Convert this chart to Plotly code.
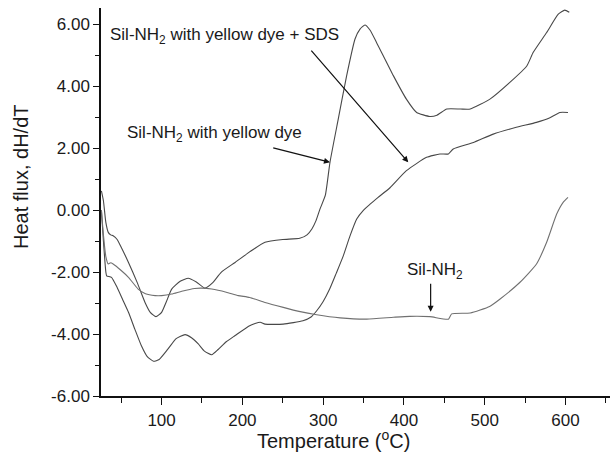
import plotly.graph_objects as go

# Sil-NH2 with yellow dye
xa = [25.5, 28, 31, 34, 37, 40, 45, 50, 59, 70, 79.5, 86, 93, 100, 106, 112.5, 123, 133, 143, 153.7,
      163, 174, 191, 209, 228, 250, 271, 280, 286, 291, 296, 302.7, 308.4, 318.7, 329, 339.4, 345.6,
      351.7, 357.9, 366, 387, 403, 415.7, 432, 440.8, 453, 470, 482, 506.4, 531, 552, 560, 576.6,
      591, 599, 604.6]
ya = [0.62, 0.3, -0.4, -0.72, -0.8, -0.83, -0.95, -1.2, -1.69, -2.35, -2.98, -3.3, -3.44, -3.3, -2.95,
      -2.55, -2.3, -2.2, -2.32, -2.52, -2.35, -2.0, -1.69, -1.35, -1.04, -0.95, -0.91, -0.8, -0.61,
      -0.35, 0.03, 0.48, 1.54, 2.94, 4.33, 5.52, 5.84, 5.97, 5.81, 5.41, 4.33, 3.58, 3.15, 3.02,
      3.06, 3.26, 3.26, 3.26, 3.58, 4.12, 4.65, 5.09, 5.73, 6.32, 6.45, 6.38]

# Sil-NH2 with yellow dye + SDS
xb = [25.5, 28, 31, 32, 38, 45, 52, 59, 67, 75, 82, 90, 97, 108, 118, 129, 137, 145.4, 153, 162, 170,
      180, 191, 209, 222, 228, 250.6, 275, 285, 292, 300, 308, 316, 325, 333, 341.5, 350, 358, 368,
      382.7, 403, 428, 444.5, 455, 461, 486, 510.5, 539, 564, 580, 593, 603]
yb = [0.0, -1.0, -2.0, -2.12, -2.17, -2.5, -2.9, -3.3, -3.85, -4.38, -4.72, -4.88, -4.82, -4.48, -4.15,
      -4.02, -4.12, -4.32, -4.55, -4.67, -4.5, -4.25, -4.05, -3.73, -3.62, -3.68, -3.68, -3.57, -3.45,
      -3.25, -2.95, -2.55, -2.05, -1.47, -0.85, -0.29, 0.0, 0.19, 0.41, 0.72, 1.27, 1.7, 1.81, 1.81,
      1.97, 2.18, 2.45, 2.67, 2.83, 2.97, 3.15, 3.15]

# Sil-NH2
xc = [25.5, 28, 31, 34, 37, 40, 50, 59, 71, 80, 92, 100, 112.5, 125, 141, 150, 162, 180, 195, 209, 228,
      250.6, 270, 292, 321, 354, 387, 407, 432, 455, 459, 482, 506, 519, 543.6, 564, 576.6, 589, 597, 603]
yc = [0.0, -0.8, -1.5, -1.74, -1.7, -1.74, -1.95, -2.17, -2.55, -2.7, -2.76, -2.76, -2.71, -2.62, -2.53,
      -2.52, -2.55, -2.65, -2.76, -2.82, -2.98, -3.14, -3.27, -3.38, -3.48, -3.52, -3.46, -3.43, -3.44,
      -3.52, -3.35, -3.32, -3.11, -2.87, -2.33, -1.74, -1.04, -0.13, 0.25, 0.41]

x_ticks = [100, 200, 300, 400, 500, 600]
x_minor = [50, 150, 250, 350, 450, 550, 650]
y_ticks = [-6, -4, -2, 0, 2, 4, 6]
y_labels = ["-6.00", "-4.00", "-2.00", "0.00", "2.00", "4.00", "6.00"]
y_minor = [-5, -3, -1, 1, 3, 5]

fig = go.Figure()
for xs, ys, col in [(xa, ya, "#484848"), (xb, yb, "#484848"), (xc, yc, "#707070")]:
    fig.add_trace(go.Scatter(x=xs, y=ys, mode="lines",
                             line=dict(color=col, width=1.1, shape="spline", smoothing=0.5),
                             showlegend=False, hoverinfo="skip"))

font = dict(family="Liberation Sans, Arial, sans-serif", size=17, color="#1a1a1a")

ann = [
    dict(x=33.7, y=5.61, text="Sil-NH<sub>2</sub> with yellow dye + SDS", xanchor="left", yanchor="middle", showarrow=False),
    dict(x=54.7, y=2.45, text="Sil-NH<sub>2</sub> with yellow dye", xanchor="left", yanchor="middle", showarrow=False),
    dict(x=439, y=-1.97, text="Sil-NH<sub>2</sub>", xanchor="center", yanchor="middle", showarrow=False),
]
arrows = [
    (283.7, 5.19, 405.3, 1.54),
    (236.3, 2.02, 308.4, 1.54),
    (433, -2.33, 433, -3.28),
]
for a in ann:
    a.update(xref="x", yref="y", font=font)
for (ax, ay, x, y) in arrows:
    ann.append(dict(x=x, y=y, ax=ax, ay=ay, xref="x", yref="y", axref="x", ayref="y",
                    text="", showarrow=True, arrowhead=2, arrowsize=1, arrowwidth=1.2,
                    arrowcolor="#111111", standoff=0, startstandoff=0))
# axis titles
ann.append(dict(x=(333 - 101) / 509, y=-(439 - 396) / 388, xref="paper", yref="paper",
                text="Temperature (<sup>o</sup>C)", showarrow=False, xanchor="center", yanchor="middle",
                font=dict(family="Liberation Sans, Arial, sans-serif", size=20, color="#1a1a1a")))
ann.append(dict(x=-(101 - 21) / 509, y=(396 - 177) / 388, xref="paper", yref="paper",
                text="Heat flux, dH/dT", showarrow=False, xanchor="center", yanchor="middle", textangle=-90,
                font=dict(family="Liberation Sans, Arial, sans-serif", size=20, color="#1a1a1a")))

fig.update_layout(
    width=610, height=467,
    margin=dict(l=101, r=0, t=8, b=71),
    paper_bgcolor="white", plot_bgcolor="white",
    annotations=ann,
    font=font,
)
fig.update_xaxes(range=[25, 655], tickvals=x_ticks, ticktext=[str(v) for v in x_ticks],
                 ticks="outside", ticklen=7, tickwidth=1.2, tickcolor="#111",
                 showline=True, linecolor="#111", linewidth=1.5, showgrid=False, zeroline=False,
                 ticklabelstandoff=1, tickfont=font,
                 minor=dict(tickvals=x_minor, ticks="outside", ticklen=5, tickwidth=1.2, tickcolor="#111", showgrid=False))
fig.update_yaxes(range=[-6, 6.52], tickvals=y_ticks, ticktext=y_labels,
                 ticks="outside", ticklen=6, tickwidth=1.2, tickcolor="#111",
                 showline=True, linecolor="#111", linewidth=1.5, showgrid=False, zeroline=False,
                 tickfont=font,
                 minor=dict(tickvals=y_minor, ticks="outside", ticklen=4, tickwidth=1.2, tickcolor="#111", showgrid=False))

fig.write_html("out.html")
